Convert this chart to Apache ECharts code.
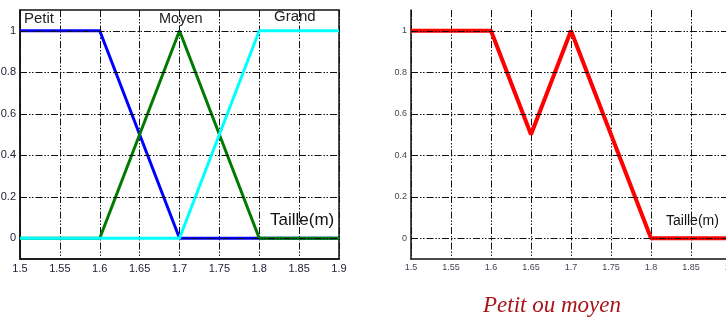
<!DOCTYPE html>
<html><head><meta charset="utf-8">
<script src="https://cdn.jsdelivr.net/npm/echarts@6/dist/echarts.min.js"></script>
<style>html,body{margin:0;padding:0;background:#fff}#c{width:726px;height:322px}</style>
</head><body><div id="c"></div>
<script>
const xPts = [1.5, 1.6, 1.65, 1.7, 1.75, 1.8, 1.9];
const petit = [1, 1, 0.5, 0, 0, 0, 0];
const moyen = [0, 0, 0.5, 1, 0.5, 0, 0];
const grand = [0, 0, 0, 0, 0.5, 1, 1];
const petitOuMoyen = [1, 1, 0.5, 1, 0.5, 0, 0];
const yTicks = [0, 0.2, 0.4, 0.6, 0.8, 1];
const xMin = 1.5, xMax = 1.9, xStep = 0.05;
const yMin = -0.1, yMax = 1.1;

const pairs = arr => xPts.map((x, i) => [x, arr[i]]);
const dashDot = [7, 2, 1.5, 1.5, 1.5, 2];
const gridLine = { show: true, lineStyle: { color: '#111', width: 1, type: dashDot } };

function xAxis(gi, fs, col) {
  return {
    type: 'value', gridIndex: gi, min: xMin, max: xMax, interval: xStep,
    axisLine: { show: true, onZero: false, lineStyle: { color: '#111', width: 1.5 } },
    axisTick: { show: false },
    axisLabel: { fontFamily: 'Liberation Sans, Arial', fontSize: fs, color: col, margin: 4,
      formatter: v => String(Math.round(v * 100) / 100) },
    splitLine: gridLine
  };
}
function yAxis(gi, fs, col) {
  return {
    type: 'value', gridIndex: gi, min: yMin, max: yMax,
    axisLine: { show: true, onZero: false, lineStyle: { color: '#111', width: 1.5 } },
    axisTick: { show: false, customValues: yTicks },
    axisLabel: { fontFamily: 'Liberation Sans, Arial', fontSize: fs, color: col, margin: 4, customValues: yTicks,
      formatter: v => String(Math.round(v * 10) / 10) },
    splitLine: { show: false }
  };
}
function hLines(gi) {
  return {
    type: 'line', xAxisIndex: gi, yAxisIndex: gi, data: [], silent: true,
    markLine: { silent: true, symbol: 'none', label: { show: false },
      lineStyle: { color: '#111', width: 1, type: dashDot },
      data: yTicks.map(v => ({ yAxis: v })) }
  };
}
function line(gi, arr, color, w, z) {
  return { type: 'line', xAxisIndex: gi, yAxisIndex: gi, data: pairs(arr), symbol: 'none',
    lineStyle: { color: color, width: w }, z: z, animation: false };
}

const chart = echarts.init(document.getElementById('c'), null, { renderer: 'canvas' });
chart.setOption({
  animation: false,
  grid: [
    { left: 20, top: 10, width: 319, height: 249, outerBoundsMode: 'none', containLabel: false, show: true, borderColor: '#111', borderWidth: 1.5, backgroundColor: 'transparent' },
    { left: 411, top: 10, width: 320, height: 249, outerBoundsMode: 'none', containLabel: false }
  ],
  xAxis: [xAxis(0, 11, '#223'), xAxis(1, 9, '#445')],
  yAxis: [yAxis(0, 11, '#223'), yAxis(1, 9, '#445')],
  series: [
    hLines(0), hLines(1),
    line(0, petit, '#0000ff', 3, 3),
    line(0, moyen, '#007a00', 3, 4),
    line(0, grand, '#00ffff', 3, 5),
    line(1, petitOuMoyen, '#ff0000', 4, 3)
  ],
  graphic: [
    { type: 'text', left: 24, top: 11, style: { text: 'Petit', font: '15px Liberation Sans', fill: '#222' } },
    { type: 'text', left: 159, top: 11, style: { text: 'Moyen', font: '14.5px Liberation Sans', fill: '#222' } },
    { type: 'text', left: 274, top: 9, style: { text: 'Grand', font: '15px Liberation Sans', fill: '#222' } },
    { type: 'text', left: 270, top: 212, style: { text: 'Taille(m)', font: '17px Liberation Sans', fill: '#111' } },
    { type: 'text', left: 666, top: 214, style: { text: 'Taille(m)', font: '14px Liberation Sans', fill: '#111' } },
    { type: 'text', left: 483, top: 294, style: { text: 'Petit ou moyen', font: 'italic 23px Liberation Serif', fill: '#a8141a' } }
  ]
});
</script></body></html>
